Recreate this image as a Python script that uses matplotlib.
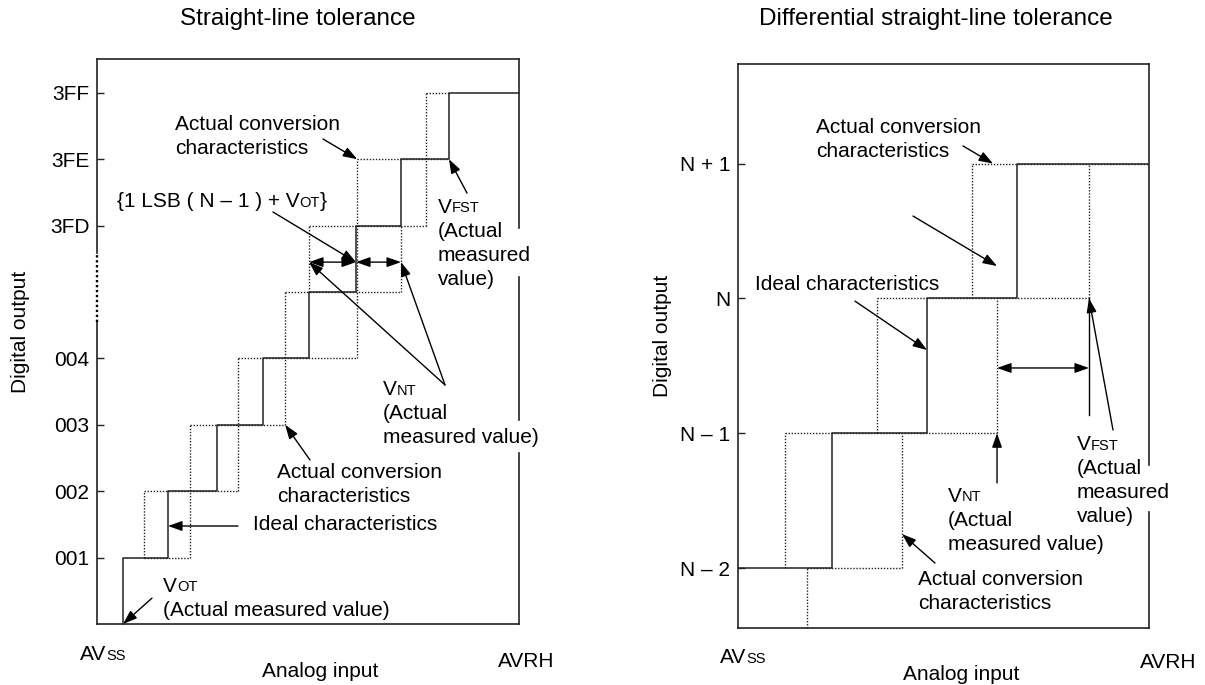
import numpy as np
import matplotlib
matplotlib.use('Agg')
import matplotlib.pyplot as plt

plt.rcParams['font.family'] = ['Liberation Sans', 'DejaVu Sans']

FS = 15      # body text
FS_S = 10.5  # small caps subscript
FS_T = 17.5  # titles
LS = 17.3    # line step (points)
EDGE = '#222222'
DOTS = (0, (1, 1.2))

# ---------------- left panel: straight-line tolerance ----------------
codes_l = [1, 2, 3, 4, 6, 7, 8]
code_lab_l = ['001', '002', '003', '004', '3FD', '3FE', '3FF']
# ideal transition points (code k -> k+1), in LSB units
ideal_l = [0.556, 1.517, 2.564, 3.547, 4.530, 5.534, 6.496, 7.521]
# actual conversion characteristics (dotted): verticals (x, y0, y1), horizontals (y, x0, x1)
act_v_l = [(1.00, 1, 2), (1.99, 1, 3), (3.01, 2, 4), (4.02, 3, 5),
           (4.53, 5, 6), (5.56, 4, 7), (6.50, 5, 6), (7.02, 6, 8)]
act_h_l = [(1, 1.00, 1.99), (2, 1.00, 3.01), (3, 1.99, 4.02), (4, 3.01, 5.56),
           (5, 4.02, 6.50), (6, 4.53, 7.02), (7, 5.56, 7.52), (8, 7.02, 7.52)]
XL = (0, 9.017)
YL = (0, 8.509)

# ---------------- right panel: differential straight-line tolerance ----------------
codes_r = [0, 1, 2, 3]
code_lab_r = ['N \u2013 2', 'N \u2013 1', 'N', 'N + 1']
ideal_r = [1.011, 2.032, 3.0]
act_v_r = [(0.742, -0.445, 0), (0.505, 0, 1), (1.763, 0, 1), (1.495, 1, 2),
           (2.785, 1, 2), (2.516, 2, 3), (3.774, 2, 3)]
act_h_r = [(0, 0.742, 1.763), (1, 0.505, 2.785), (2, 1.495, 3.774), (3, 2.516, 4.419)]
XR = (0, 4.419)
YR = (-0.445, 3.739)


def frame(ax, xlim, ylim, left_break=None, right_gaps=()):
    x0, x1 = xlim
    y0, y1 = ylim
    kw = dict(color=EDGE, lw=1.2, clip_on=False, solid_capstyle='projecting', zorder=4)
    ax.plot([x0, x1], [y0, y0], **kw)
    ax.plot([x0, x1], [y1, y1], **kw)
    if left_break:
        b0, b1 = left_break
        ax.plot([x0, x0], [y0, b0], **kw)
        ax.plot([x0, x0], [b1, y1], **kw)
        ax.plot([x0, x0], [b0, b1], color='k', lw=1.7, ls=(0, (1, 1.1)),
                clip_on=False, zorder=4)
    else:
        ax.plot([x0, x0], [y0, y1], **kw)
    pts = [y0] + [g for gap in sorted(right_gaps) for g in gap] + [y1]
    for a, b in zip(pts[0::2], pts[1::2]):
        ax.plot([x1, x1], [a, b], **kw)


def setup(ax, xlim, ylim, codes, labels):
    ax.set_xlim(xlim)
    ax.set_ylim(ylim)
    for s in ax.spines.values():
        s.set_visible(False)
    ax.set_xticks([])
    ax.set_yticks(codes, labels)
    ax.tick_params(axis='y', direction='in', length=5, width=1, pad=5.5,
                   labelsize=FS, color=EDGE)


def dotted(ax, verts, horz):
    for x, a, b in verts:
        ax.plot([x, x], [a, b], color=EDGE, lw=1.0, ls=DOTS, clip_on=False)
    for y, a, b in horz:
        ax.plot([a, b], [y, y], color=EDGE, lw=1.0, ls=DOTS, clip_on=False)


def arrow(ax, tip, start, style='-|>'):
    ax.annotate('', xy=tip, xytext=start, annotation_clip=False,
                arrowprops=dict(arrowstyle=style + ',head_length=0.85,head_width=0.3',
                                mutation_scale=10, lw=1.0, color='k',
                                shrinkA=0, shrinkB=0))


def note(ax, x, y, lines, sub=None, **kw):
    first = None
    for i, s in enumerate(lines):
        t = ax.annotate(s, (x, y), xytext=(0, -i * LS), textcoords='offset points',
                        fontsize=FS, ha='left', va='baseline', annotation_clip=False,
                        zorder=5, **kw)
        if i == 0:
            first = t
            if sub:
                ax.annotate(sub, xy=(1, 0), xycoords=t, xytext=(0, 0.9),
                            textcoords='offset points', fontsize=FS_S,
                            ha='left', va='bottom', zorder=5)
    return first


fig = plt.figure(figsize=(12.05, 6.85), dpi=100)
axl = fig.add_axes([97 / 1205, 61 / 685, 422 / 1205, 565 / 685])
axr = fig.add_axes([738 / 1205, 57 / 685, 411 / 1205, 564 / 685])

# ----- left -----
setup(axl, XL, YL, codes_l, code_lab_l)
frame(axl, XL, YL, left_break=(4.548, 5.587), right_gaps=[(2.58, 3.07), (5.23, 5.96)])
axl.step(ideal_l + [XL[1]], np.arange(9), where='pre', color=EDGE, lw=1.1, clip_on=False)
dotted(axl, act_v_l, act_h_l)

axl.annotate('Straight-line tolerance', (4.295, 9.02), ha='center', va='baseline',
             fontsize=FS_T, annotation_clip=False)
axl.text(-1.624, 4.398, 'Digital output', rotation=90, ha='center', va='center', fontsize=FS)
note(axl, -0.363, -0.542, ['AV'], sub='SS')
axl.annotate('Analog input', (4.765, -0.793), ha='center', va='baseline',
             fontsize=FS, annotation_clip=False)
note(axl, 8.568, -0.643, ['AVRH'])

note(axl, 1.667, 7.44, ['Actual conversion', 'characteristics'])
arrow(axl, (act_v_l[5][0], 7), (4.829, 7.304))

t1 = note(axl, 0.427, 6.28, ['{1 LSB ( N \u2013 1 ) + V'])
t2 = axl.annotate('OT', xy=(1, 0), xycoords=t1, xytext=(0, 0.9), textcoords='offset points',
                  fontsize=FS_S, ha='left', va='bottom')
axl.annotate('}', xy=(1, 0), xycoords=(t2, t1), fontsize=FS, ha='left', va='bottom')
arrow(axl, (ideal_l[5], 5.45), (3.76, 6.205))
arrow(axl, (ideal_l[4], 5.45), (ideal_l[5], 5.45), '<|-|>')
arrow(axl, (ideal_l[6], 5.45), (ideal_l[5], 5.45), '<|-|>')

note(axl, 7.286, 6.194, ['V', '(Actual', 'measured', 'value)'], sub='FST')
arrow(axl, (ideal_l[7], 7), (7.906, 6.49))

note(axl, 6.111, 3.449, ['V', '(Actual', 'measured value)'], sub='NT')
arrow(axl, (ideal_l[4], 5.45), (7.436, 3.60))
arrow(axl, (ideal_l[6], 5.45), (7.436, 3.60))

note(axl, 3.846, 2.199, ['Actual conversion', 'characteristics'])
arrow(axl, (act_v_l[3][0], 3), (4.551, 2.47))

note(axl, 3.333, 1.416, ['Ideal characteristics'])
arrow(axl, (ideal_l[1], 1.476), (3.013, 1.476))

note(axl, 1.41, 0.487, ['V', '(Actual measured value)'], sub='OT')
arrow(axl, (ideal_l[0], 0), (1.175, 0.39))

# ----- right -----
setup(axr, XR, YR, codes_r, code_lab_r)
frame(axr, XR, YR, right_gaps=[(0.415, 0.764)])
axr.step([XR[0]] + ideal_r + [XR[1]], [0, 1, 2, 3, 3], where='post', color=EDGE, lw=1.1)
dotted(axr, act_v_r, act_h_r)

axr.annotate('Differential straight-line tolerance', (2.129, 4.028), ha='center',
             va='baseline', fontsize=FS_T, annotation_clip=False)
axr.text(-0.817, 1.721, 'Digital output', rotation=90, ha='center', va='center', fontsize=FS)
note(axr, -0.194, -0.707, ['AV'], sub='SS')
axr.annotate('Analog input', (2.398, -0.831), ha='center', va='baseline',
             fontsize=FS, annotation_clip=False)
note(axr, 4.323, -0.744, ['AVRH'])

note(axr, 0.839, 3.225, ['Actual conversion', 'characteristics'])
arrow(axr, (2.742, 3), (2.419, 3.131))
arrow(axr, (2.785, 2.24), (1.882, 2.611))

note(axr, 0.183, 2.062, ['Ideal characteristics'])
arrow(axr, (ideal_r[1], 1.617), (1.258, 1.98))

note(axr, 1.935, -0.126, ['Actual conversion', 'characteristics'])
arrow(axr, (act_v_r[2][0], 0.252), (2.118, 0.037))

note(axr, 2.258, 0.492, ['V', '(Actual', 'measured value)'], sub='NT')
arrow(axr, (act_v_r[4][0], 1), (act_v_r[4][0], 0.631))

note(axr, 3.645, 0.875, ['V', '(Actual', 'measured', 'value)'], sub='FST')
arrow(axr, (act_v_r[6][0], 2), (4.032, 1.024))
axr.plot([act_v_r[6][0]] * 2, [1.135, 2], color='k', lw=1.0)
arrow(axr, (act_v_r[6][0], 1.484), (act_v_r[4][0], 1.484), '<|-|>')

fig.savefig('out.png', dpi=100)
